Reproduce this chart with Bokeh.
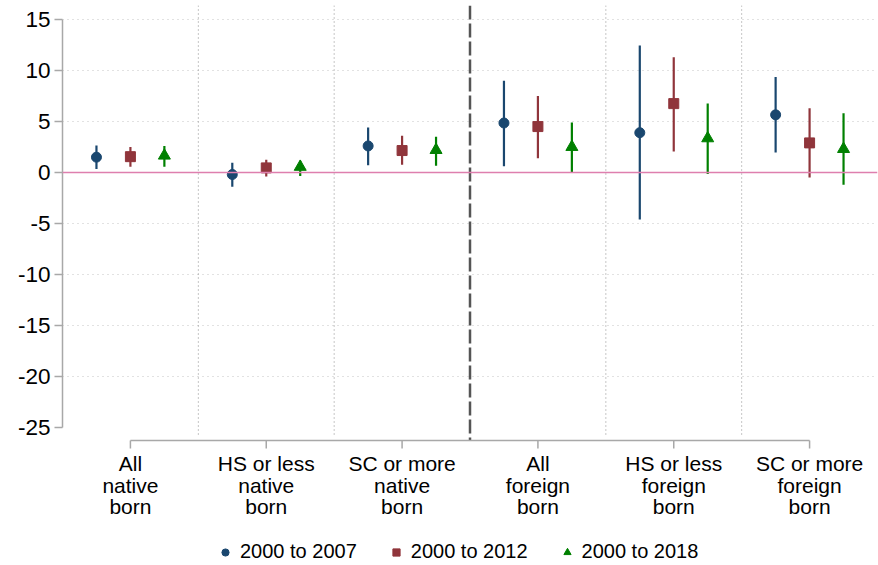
from bokeh.plotting import figure
from bokeh.models import Span, Legend, LegendItem, FixedTicker, Range1d
from bokeh.core.properties import value
from bokeh.embed import file_html
from bokeh.resources import INLINE

categories = ["All\nnative\nborn", "HS or less\nnative\nborn", "SC or more\nnative\nborn",
              "All\nforeign\nborn", "HS or less\nforeign\nborn", "SC or more\nforeign\nborn"]
series = ["2000 to 2007", "2000 to 2012", "2000 to 2018"]

est_2007 = [1.5, -0.2, 2.6, 4.85, 3.9, 5.65]
lo_2007 = [0.35, -1.4, 0.7, 0.6, -4.6, 1.95]
hi_2007 = [2.65, 0.95, 4.4, 9.0, 12.45, 9.35]

est_2012 = [1.55, 0.45, 2.15, 4.5, 6.75, 2.9]
lo_2012 = [0.55, -0.4, 0.75, 1.4, 2.05, -0.5]
hi_2012 = [2.5, 1.25, 3.6, 7.5, 11.3, 6.3]

est_2018 = [1.65, 0.55, 2.2, 2.5, 3.35, 2.3]
lo_2018 = [0.55, -0.35, 0.65, 0.0, -0.15, -1.2]
hi_2018 = [2.6, 1.15, 3.5, 4.9, 6.75, 5.8]

y_ticks = [15, 10, 5, 0, -5, -10, -15, -20, -25]
y_tick_labels = ["15", "10", "5", "0", "-5", "-10", "-15", "-20", "-25"]
y_grid = [15, 10, 5, -5, -10, -15, -20]

FONT = "Liberation Sans"
colors = ["#1a476f", "#90353b", "#008000"]
markers = ["circle", "square", "triangle"]
sizes = [10, 10, 12]
offsets = [-0.25, 0.0, 0.25]

n = len(categories)
pos = list(range(1, n + 1))
label_lines = [c.split("\n") for c in categories]

# frame geometry (frame spans the whole canvas height below a 5px top border)
FRAME_H = 560
Y_TOP = 16.37
Y_BOT = Y_TOP - FRAME_H / 10.2
U = (Y_TOP - Y_BOT) / FRAME_H          # data units per pixel
AXIS_Y = Y_TOP - 435 * U                # where the category axis sits
SEP_END = Y_TOP - 430 * U

p = figure(frame_width=815, frame_height=FRAME_H, output_backend="svg", toolbar_location=None,
           x_range=Range1d(0.5, 6.5), y_range=Range1d(Y_BOT, Y_TOP),
           x_axis_location=None,
           min_border_left=62, min_border_right=1, min_border_top=5, min_border_bottom=0)
p.outline_line_color = None
p.background_fill_color = "white"
p.border_fill_color = "white"

# grids
p.xgrid.visible = False
p.ygrid.ticker = FixedTicker(ticks=y_grid)
p.ygrid.grid_line_color = "#c4c4c4"
p.ygrid.grid_line_dash = "1 4"
p.ygrid.grid_line_width = 1

# group separators (dotted) and native/foreign divider (dashed)
sep_x = [c + 0.5 for c in pos[:-1] if c != 3]
p.segment(x0=sep_x, y0=[Y_TOP] * len(sep_x), x1=sep_x, y1=[SEP_END] * len(sep_x),
          line_color="#8c8c8c", line_width=1, line_dash="1 3")
p.segment(x0=[3.5], y0=[Y_TOP], x1=[3.5], y1=[AXIS_Y],
          line_color="#555555", line_width=2.5, line_dash="14 4")
p.add_layout(Span(location=0, dimension="width", line_color="#de7fae", line_width=1.5))

# y axis
ymain = p.yaxis[0]
ymain.ticker = FixedTicker(ticks=y_ticks)
ymain.major_label_overrides = {t: s for t, s in zip(y_ticks, y_tick_labels)}
ymain.bounds = (-25, 15)
ymain.axis_label = None
ymain.axis_line_color = "#a8a8a8"
ymain.axis_line_width = 1.5
ymain.major_tick_line_color = "#a8a8a8"
ymain.major_tick_line_width = 1.5
ymain.major_tick_out = 8
ymain.major_tick_in = 0
ymain.minor_tick_line_color = None
ymain.major_label_text_font = FONT
ymain.major_label_text_color = "#000000"
ymain.major_label_text_font_size = "22.5px"
ymain.major_label_standoff = 4

# category axis drawn in the frame
p.segment(x0=[pos[0]], y0=[AXIS_Y], x1=[pos[-1]], y1=[AXIS_Y],
          line_color="#a8a8a8", line_width=1.5)
p.segment(x0=pos, y0=[AXIS_Y] * n, x1=pos, y1=[AXIS_Y - 8 * U] * n,
          line_color="#a8a8a8", line_width=1.5)
for line_no, dy in zip(range(3), [23, 44.5, 66]):
    p.text(x=pos, y=[AXIS_Y] * n, text=[l[line_no] for l in label_lines],
           y_offset=dy, text_align="center", text_baseline="middle",
           text_font=value(FONT), text_font_size=value("21px"), text_color="#000000")

ests = [est_2007, est_2012, est_2018]
los = [lo_2007, lo_2012, lo_2018]
his = [hi_2007, hi_2012, hi_2018]

items = []
for k in range(3):
    xs = [c + offsets[k] for c in pos]
    p.segment(x0=xs, y0=los[k], x1=xs, y1=his[k], line_color=colors[k], line_width=2.2)
    r = p.scatter(x=xs, y=ests[k], marker=markers[k], size=sizes[k],
                  fill_color=colors[k], line_color=colors[k])
    items.append(LegendItem(label=series[k], renderers=[r]))

legend = Legend(items=items, orientation="horizontal", location=(154, 2),
                label_text_font=FONT, label_text_font_size="20px", label_text_color="#000000",
                glyph_width=18, glyph_height=18, label_standoff=6, spacing=30,
                border_line_color=None, background_fill_alpha=0, padding=0, margin=0)
p.add_layout(legend, "center")

open("out.html", "w").write(file_html(p, INLINE))
